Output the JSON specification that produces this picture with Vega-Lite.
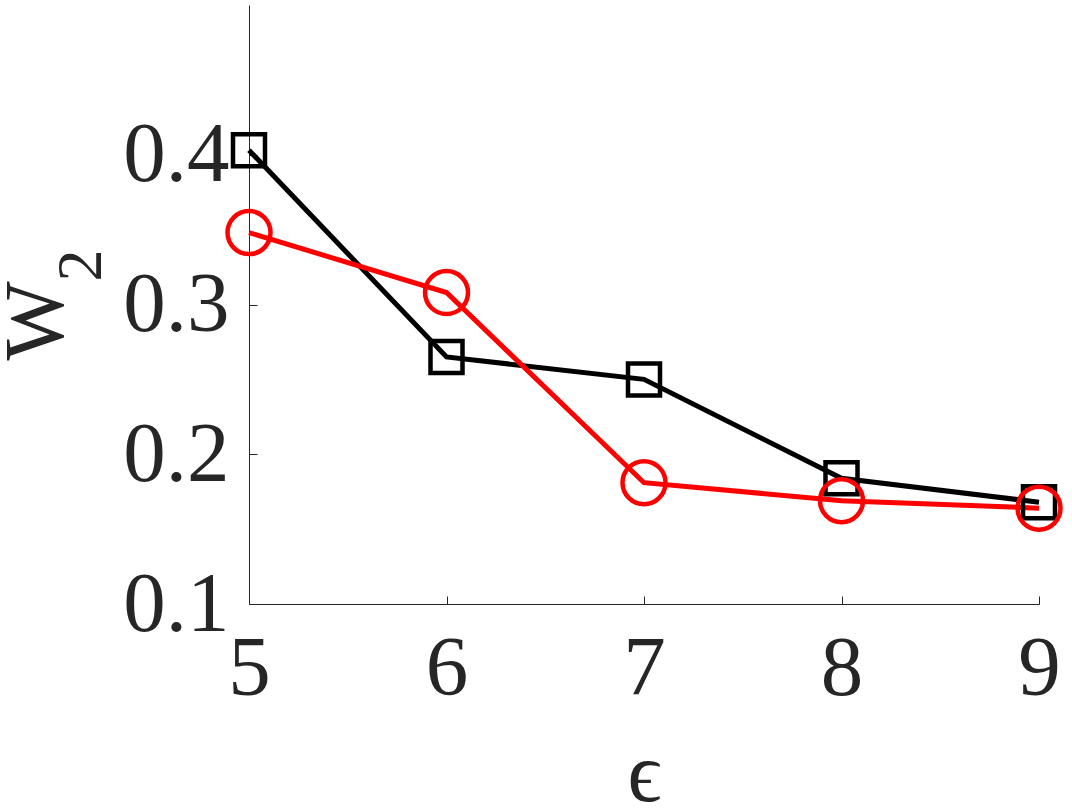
{
  "$schema": "https://vega.github.io/schema/vega-lite/v6.json",
  "autosize": {"type": "none"},
  "width": 790,
  "height": 599,
  "padding": {"left": 249, "top": 5, "right": 33, "bottom": 205},
  "background": "white",
  "config": {
    "view": {"stroke": null},
    "font": "Liberation Serif"
  },
  "data": {
    "values": [
      {"eps": 5, "w2": 0.403, "series": "A"},
      {"eps": 6, "w2": 0.265, "series": "A"},
      {"eps": 7, "w2": 0.250, "series": "A"},
      {"eps": 8, "w2": 0.184, "series": "A"},
      {"eps": 9, "w2": 0.168, "series": "A"},
      {"eps": 5, "w2": 0.348, "series": "B"},
      {"eps": 6, "w2": 0.308, "series": "B"},
      {"eps": 7, "w2": 0.181, "series": "B"},
      {"eps": 8, "w2": 0.169, "series": "B"},
      {"eps": 9, "w2": 0.164, "series": "B"}
    ]
  },
  "encoding": {
    "x": {
      "field": "eps", "type": "quantitative",
      "scale": {"domain": [5, 9], "nice": false, "zero": false},
      "axis": {
        "values": [5, 6, 7, 8, 9],
        "format": "d",
        "grid": false,
        "domainColor": "#262626", "domainWidth": 1,
        "tickColor": "#262626", "tickWidth": 1, "tickSize": -8,
        "labelFont": "Liberation Serif", "labelFontSize": 85, "labelColor": "#262626",
        "labelPadding": 31, "labelFlush": false, "labelOverlap": false,
        "title": "ϵ",
        "titleFont": "Liberation Serif", "titleFontSize": 84, "titleFontWeight": "normal",
        "titleColor": "#262626",
        "titleBaseline": "alphabetic",
        "titleY": 196
      }
    },
    "color": {
      "field": "series", "type": "nominal",
      "scale": {"domain": ["A", "B"], "range": ["#000000", "#ff0000"]},
      "legend": null
    }
  },
  "layer": [
    {
      "mark": {"type": "line", "strokeWidth": 5},
      "encoding": {
        "y": {
          "field": "w2", "type": "quantitative",
          "scale": {"domain": [0.1, 0.5], "nice": false, "zero": false},
          "axis": {
            "orient": "left",
            "values": [0.1, 0.2, 0.3, 0.4],
            "format": ".1f",
            "grid": false,
            "domainColor": "#262626", "domainWidth": 1,
            "tickColor": "#262626", "tickWidth": 1, "tickSize": -8,
            "labelFont": "Liberation Serif", "labelFontSize": 85, "labelColor": "#262626",
            "labelPadding": 28, "labelFlush": false, "labelOverlap": false,
            "title": "W",
            "titleFont": "Liberation Serif", "titleFontSize": 84, "titleFontWeight": "normal",
            "titleColor": "#262626",
            "titleAngle": 270,
            "titleAlign": "left",
            "titleBaseline": "alphabetic",
            "titleX": -187,
            "titleY": 355
          }
        }
      }
    },
    {
      "mark": {"type": "point", "filled": false, "strokeWidth": 4.5, "opacity": 1},
      "encoding": {
        "y": {
          "field": "w2", "type": "quantitative",
          "scale": {"domain": [0.1, 0.5], "nice": false, "zero": false},
          "axis": {
            "orient": "right",
            "domain": false, "ticks": false, "labels": false, "grid": false,
            "title": "2",
            "titleFont": "Liberation Serif", "titleFontSize": 64, "titleFontWeight": "normal",
            "titleColor": "#262626",
            "titleAngle": 270,
            "titleAlign": "left",
            "titleBaseline": "alphabetic",
            "titleX": -939,
            "titleY": 276
          }
        },
        "shape": {
          "field": "series", "type": "nominal",
          "scale": {"domain": ["A", "B"], "range": ["square", "circle"]},
          "legend": null
        },
        "size": {
          "field": "series", "type": "nominal",
          "scale": {"domain": ["A", "B"], "range": [1024, 1849]},
          "legend": null
        }
      }
    }
  ],
  "resolve": {"axis": {"y": "independent"}}
}
